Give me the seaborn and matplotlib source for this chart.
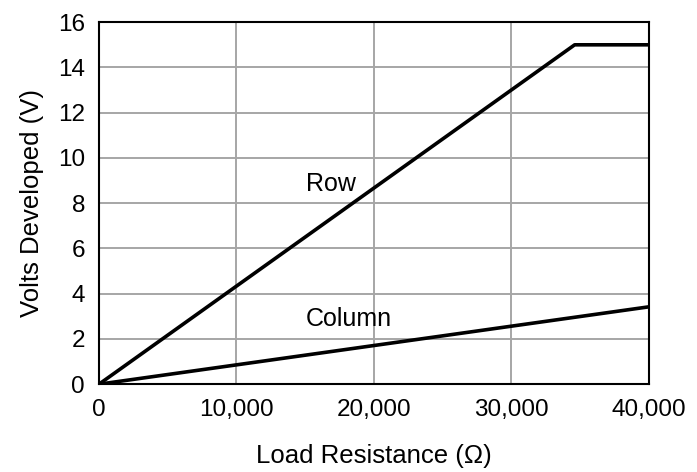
import matplotlib
matplotlib.use("Agg")
import matplotlib.pyplot as plt
import seaborn as sns
import pandas as pd
from matplotlib.ticker import FuncFormatter

# --- data ---
row_ohms = [0, 34600, 40000]
row_volts = [0, 15, 15]
col_ohms = [0, 40000]
col_volts = [0, 3.42]

x_ticks = [0, 10000, 20000, 30000, 40000]
y_ticks = [0, 2, 4, 6, 8, 10, 12, 14, 16]

df = pd.concat([
    pd.DataFrame({"ohms": row_ohms, "volts": row_volts, "series": "Row"}),
    pd.DataFrame({"ohms": col_ohms, "volts": col_volts, "series": "Column"}),
])

sns.set_theme(style="white")
plt.rcParams['font.family'] = ['Liberation Sans', 'DejaVu Sans']
plt.rcParams['text.color'] = 'black'

fig = plt.figure(figsize=(6.97, 4.72), dpi=100)
ax = fig.add_axes([0.142, 0.186, 0.789, 0.767])

sns.lineplot(data=df, x="ohms", y="volts", units="series", estimator=None,
             color="black", linewidth=2.6, ax=ax, legend=False, sort=False)

ax.set_xlim(0, 40000)
ax.set_ylim(0, 16)
ax.set_xticks(x_ticks)
ax.set_yticks(y_ticks)
ax.xaxis.set_major_formatter(FuncFormatter(lambda v, p: f"{int(v):,}"))
ax.grid(True, color="#a6a6a6", linewidth=1.4)
ax.set_axisbelow(True)
for s in ax.spines.values():
    s.set_color("black")
    s.set_linewidth(1.5)
ax.tick_params(axis="x", length=0, labelsize=17.5, colors="black", pad=11)
ax.tick_params(axis="y", length=0, labelsize=17.5, colors="black", pad=10)

ax.set_xlabel("Load Resistance (Ω)", fontsize=18.5, color="black", labelpad=16)
ax.set_ylabel("Volts Developed (V)", fontsize=18.5, color="black", labelpad=10)

ax.text(16900, 8.85, "Row", fontsize=18, color="black", ha="center", va="center")
ax.text(18200, 2.9, "Column", fontsize=18, color="black", ha="center", va="center")

fig.savefig("out.png", dpi=100)
